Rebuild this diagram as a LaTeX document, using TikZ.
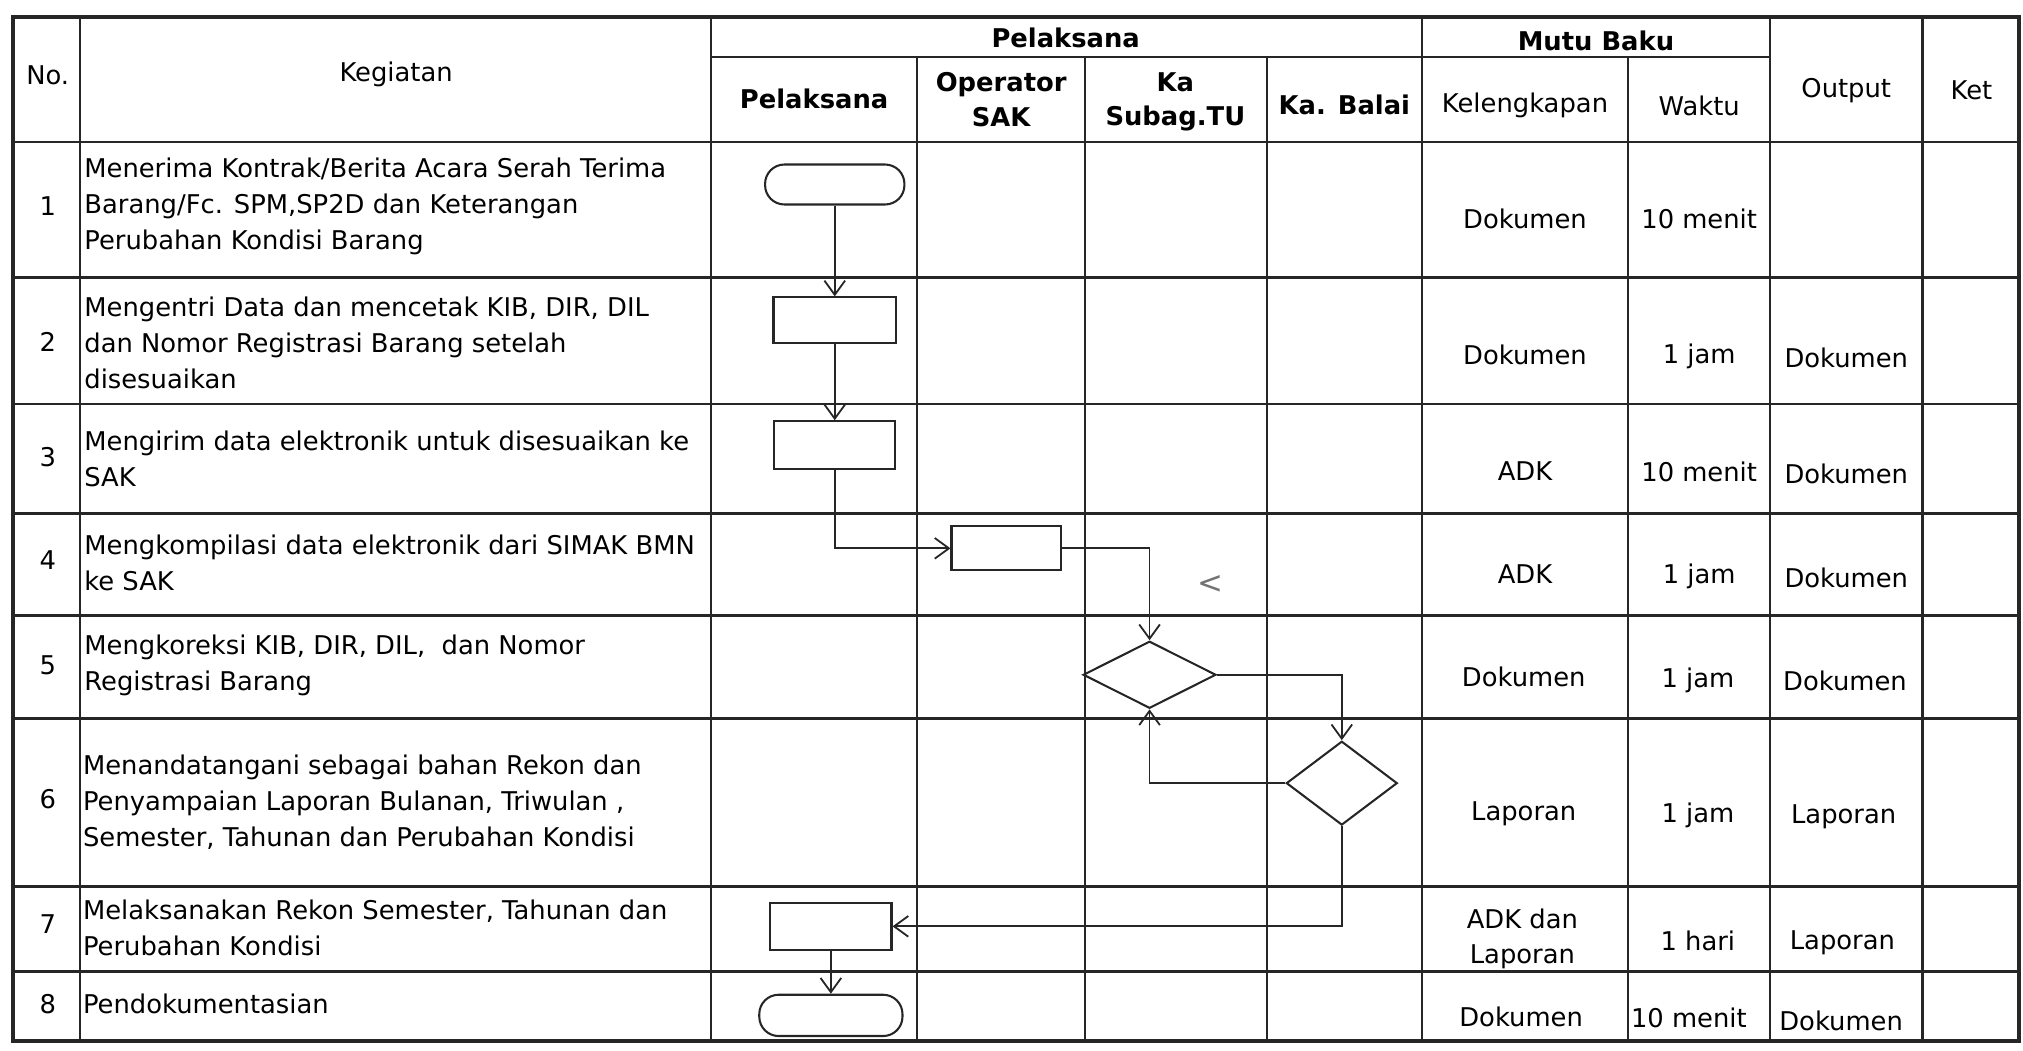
\documentclass[tikz,border=0pt]{standalone}
\usepackage{fontspec}
\setmainfont{DejaVu Sans}
\usetikzlibrary{shapes.geometric,arrows.meta}
\begin{document}
\begin{tikzpicture}[x=0.5pt,y=-0.5pt,
  grid/.style={line width=0.9pt,black!85},
  frame/.style={line width=1.4pt,black!85},
  txt/.style={inner sep=0pt,align=center,font=\fontsize{10}{13.5}\selectfont},
  hdr/.style={txt,font=\fontsize{10}{13.5}\selectfont\bfseries},
  kg/.style={inner sep=0pt,anchor=west,align=left,font=\fontsize{10}{14}\selectfont},
  shp/.style={draw=black!85,line width=0.8pt,inner sep=0pt},
  term/.style={shp,rectangle,rounded corners=7.5pt},
  proc/.style={shp,rectangle},
  dec/.style={shp,diamond},
  flow/.style={draw=black!85,line width=0.7pt,-{Straight Barb[length=5.5pt,width=8pt]}}
]
\useasboundingbox (0,0) rectangle (1568,814);

% ---------- grid ----------
\draw[frame] (10,13) rectangle (1565,807);
\foreach \x in {62,551,1102,1372,1490} \draw[grid] (\x,13) -- (\x,807);
\foreach \x in {711,841,982,1262} \draw[grid] (\x,44) -- (\x,807);
\draw[grid] (551,44) -- (1372,44);
\foreach \y in {110,215,313,398,477,557,687,753} \draw[grid] (10,\y) -- (1565,\y);

% ---------- header ----------
\node[txt] (hno) at (37,58) {No.};
\node[txt] (hkeg) at (307,58) {Kegiatan};
\node[hdr] (hpel) at (826,29) {Pelaksana};
\node[hdr] (hpel1) at (631,77) {Pelaksana};
\node[hdr] (hop) at (776,77) {Operator\\SAK};
\node[hdr] (hka) at (911,79) {Ka\\Subag.TU};
\node[hdr] (hbal) at (1042,81) {Ka. Balai};
\node[hdr] (hmutu) at (1237,32) {Mutu Baku};
\node[txt] (hkel) at (1182,82) {Kelengkapan};
\node[txt] (hwak) at (1317,82) {Waktu};
\node[txt] (hout) at (1431,70) {Output};
\node[txt] (hket) at (1528,70) {Ket};

% ---------- numbers ----------
\node[txt] (n1) at (37,160) {1};
\node[txt] (n2) at (37,265) {2};
\node[txt] (n3) at (37,354) {3};
\node[txt] (n4) at (37,434) {4};
\node[txt] (n5) at (37,516) {5};
\node[txt] (n6) at (37,619) {6};
\node[txt] (n7) at (37,716) {7};
\node[txt] (n8) at (37,778) {8};

% ---------- kegiatan ----------
\node[kg] (k1) at (65,160) {Menerima Kontrak/Berita Acara Serah Terima\\Barang/Fc. SPM,SP2D dan Keterangan\\Perubahan Kondisi Barang};
\node[kg] (k2) at (65,266) {Mengentri Data dan mencetak KIB, DIR, DIL\\dan Nomor Registrasi Barang setelah\\disesuaikan};
\node[kg] (k3) at (65,356) {Mengirim data elektronik untuk disesuaikan ke\\SAK};
\node[kg] (k4) at (65,436) {Mengkompilasi data elektronik dari SIMAK BMN\\ke SAK};
\node[kg] (k5) at (65,516) {Mengkoreksi KIB, DIR, DIL,\ \ dan Nomor\\Registrasi Barang};
\node[kg] (k6) at (64,622) {Menandatangani sebagai bahan Rekon dan\\Penyampaian Laporan Bulanan, Triwulan ,\\Semester, Tahunan dan Perubahan Kondisi};
\node[kg] (k7) at (64,719) {Melaksanakan Rekon Semester, Tahunan dan\\Perubahan Kondisi};
\node[kg] (k8) at (64,778) {Pendokumentasian};

% ---------- mutu baku / output ----------
\node[txt] (kl1) at (1182,170) {Dokumen};
\node[txt] (w1) at (1317,170) {10 menit};
\node[txt] (kl2) at (1182,275) {Dokumen};
\node[txt] (w2) at (1317,276) {1 jam};
\node[txt] (o2) at (1431,277) {Dokumen};
\node[txt] (kl3) at (1182,365) {ADK};
\node[txt] (w3) at (1317,366) {10 menit};
\node[txt] (o3) at (1431,367) {Dokumen};
\node[txt] (kl4) at (1182,445) {ADK};
\node[txt] (w4) at (1317,447) {1 jam};
\node[txt] (o4) at (1431,448) {Dokumen};
\node[txt] (kl5) at (1181,525) {Dokumen};
\node[txt] (w5) at (1316,527) {1 jam};
\node[txt] (o5) at (1430,528) {Dokumen};
\node[txt] (kl6) at (1181,631) {Laporan};
\node[txt] (w6) at (1316,632) {1 jam};
\node[txt] (o6) at (1429,633) {Laporan};
\node[txt] (kl7) at (1180,728) {ADK dan\\Laporan};
\node[txt] (w7) at (1316,729) {1 hari};
\node[txt] (o7) at (1428,731) {Laporan};
\node[txt] (kl8) at (1179,788) {Dokumen};
\node[txt] (w8) at (1309,789) {10 menit};
\node[txt] (o8) at (1427,791) {Dokumen};

% ---------- flowchart ----------
\node[term,minimum width=54pt,minimum height=15.5pt] (t1) at (647,143) {};
\node[proc,minimum width=47.5pt,minimum height=17.5pt] (b2) at (647,248) {};
\node[proc,minimum width=47pt,minimum height=18.5pt] (b3) at (647,345) {};
\node[proc,minimum width=42.5pt,minimum height=17pt] (b4) at (780,425) {};
\node[dec,minimum width=51.5pt,minimum height=26pt] (d5) at (891,523) {};
\node[dec,minimum width=43pt,minimum height=32.5pt] (d6) at (1040,607) {};
\node[proc,minimum width=47pt,minimum height=18pt] (b7) at (644,718) {};
\node[term,minimum width=55.5pt,minimum height=16pt] (t8) at (644,787) {};

\draw[flow] (t1.south) -- (b2.north);
\draw[flow] (b2.south) -- (b3.north);
\draw[flow] (b3.south) |- (b4.west);
\draw[flow] (b4.east) -| (d5.north);
\draw[flow] (d5.east) -| (d6.north);
\draw[flow] (d6.west) -| (d5.south);
\draw[flow] (d6.south) |- (b7.east);
\draw[flow] (b7.south) -- (t8.north);

\node[inner sep=0pt,text=black!55,font=\fontsize{12}{12}\selectfont] (mark) at (938,453) {<};
\end{tikzpicture}
\end{document}
